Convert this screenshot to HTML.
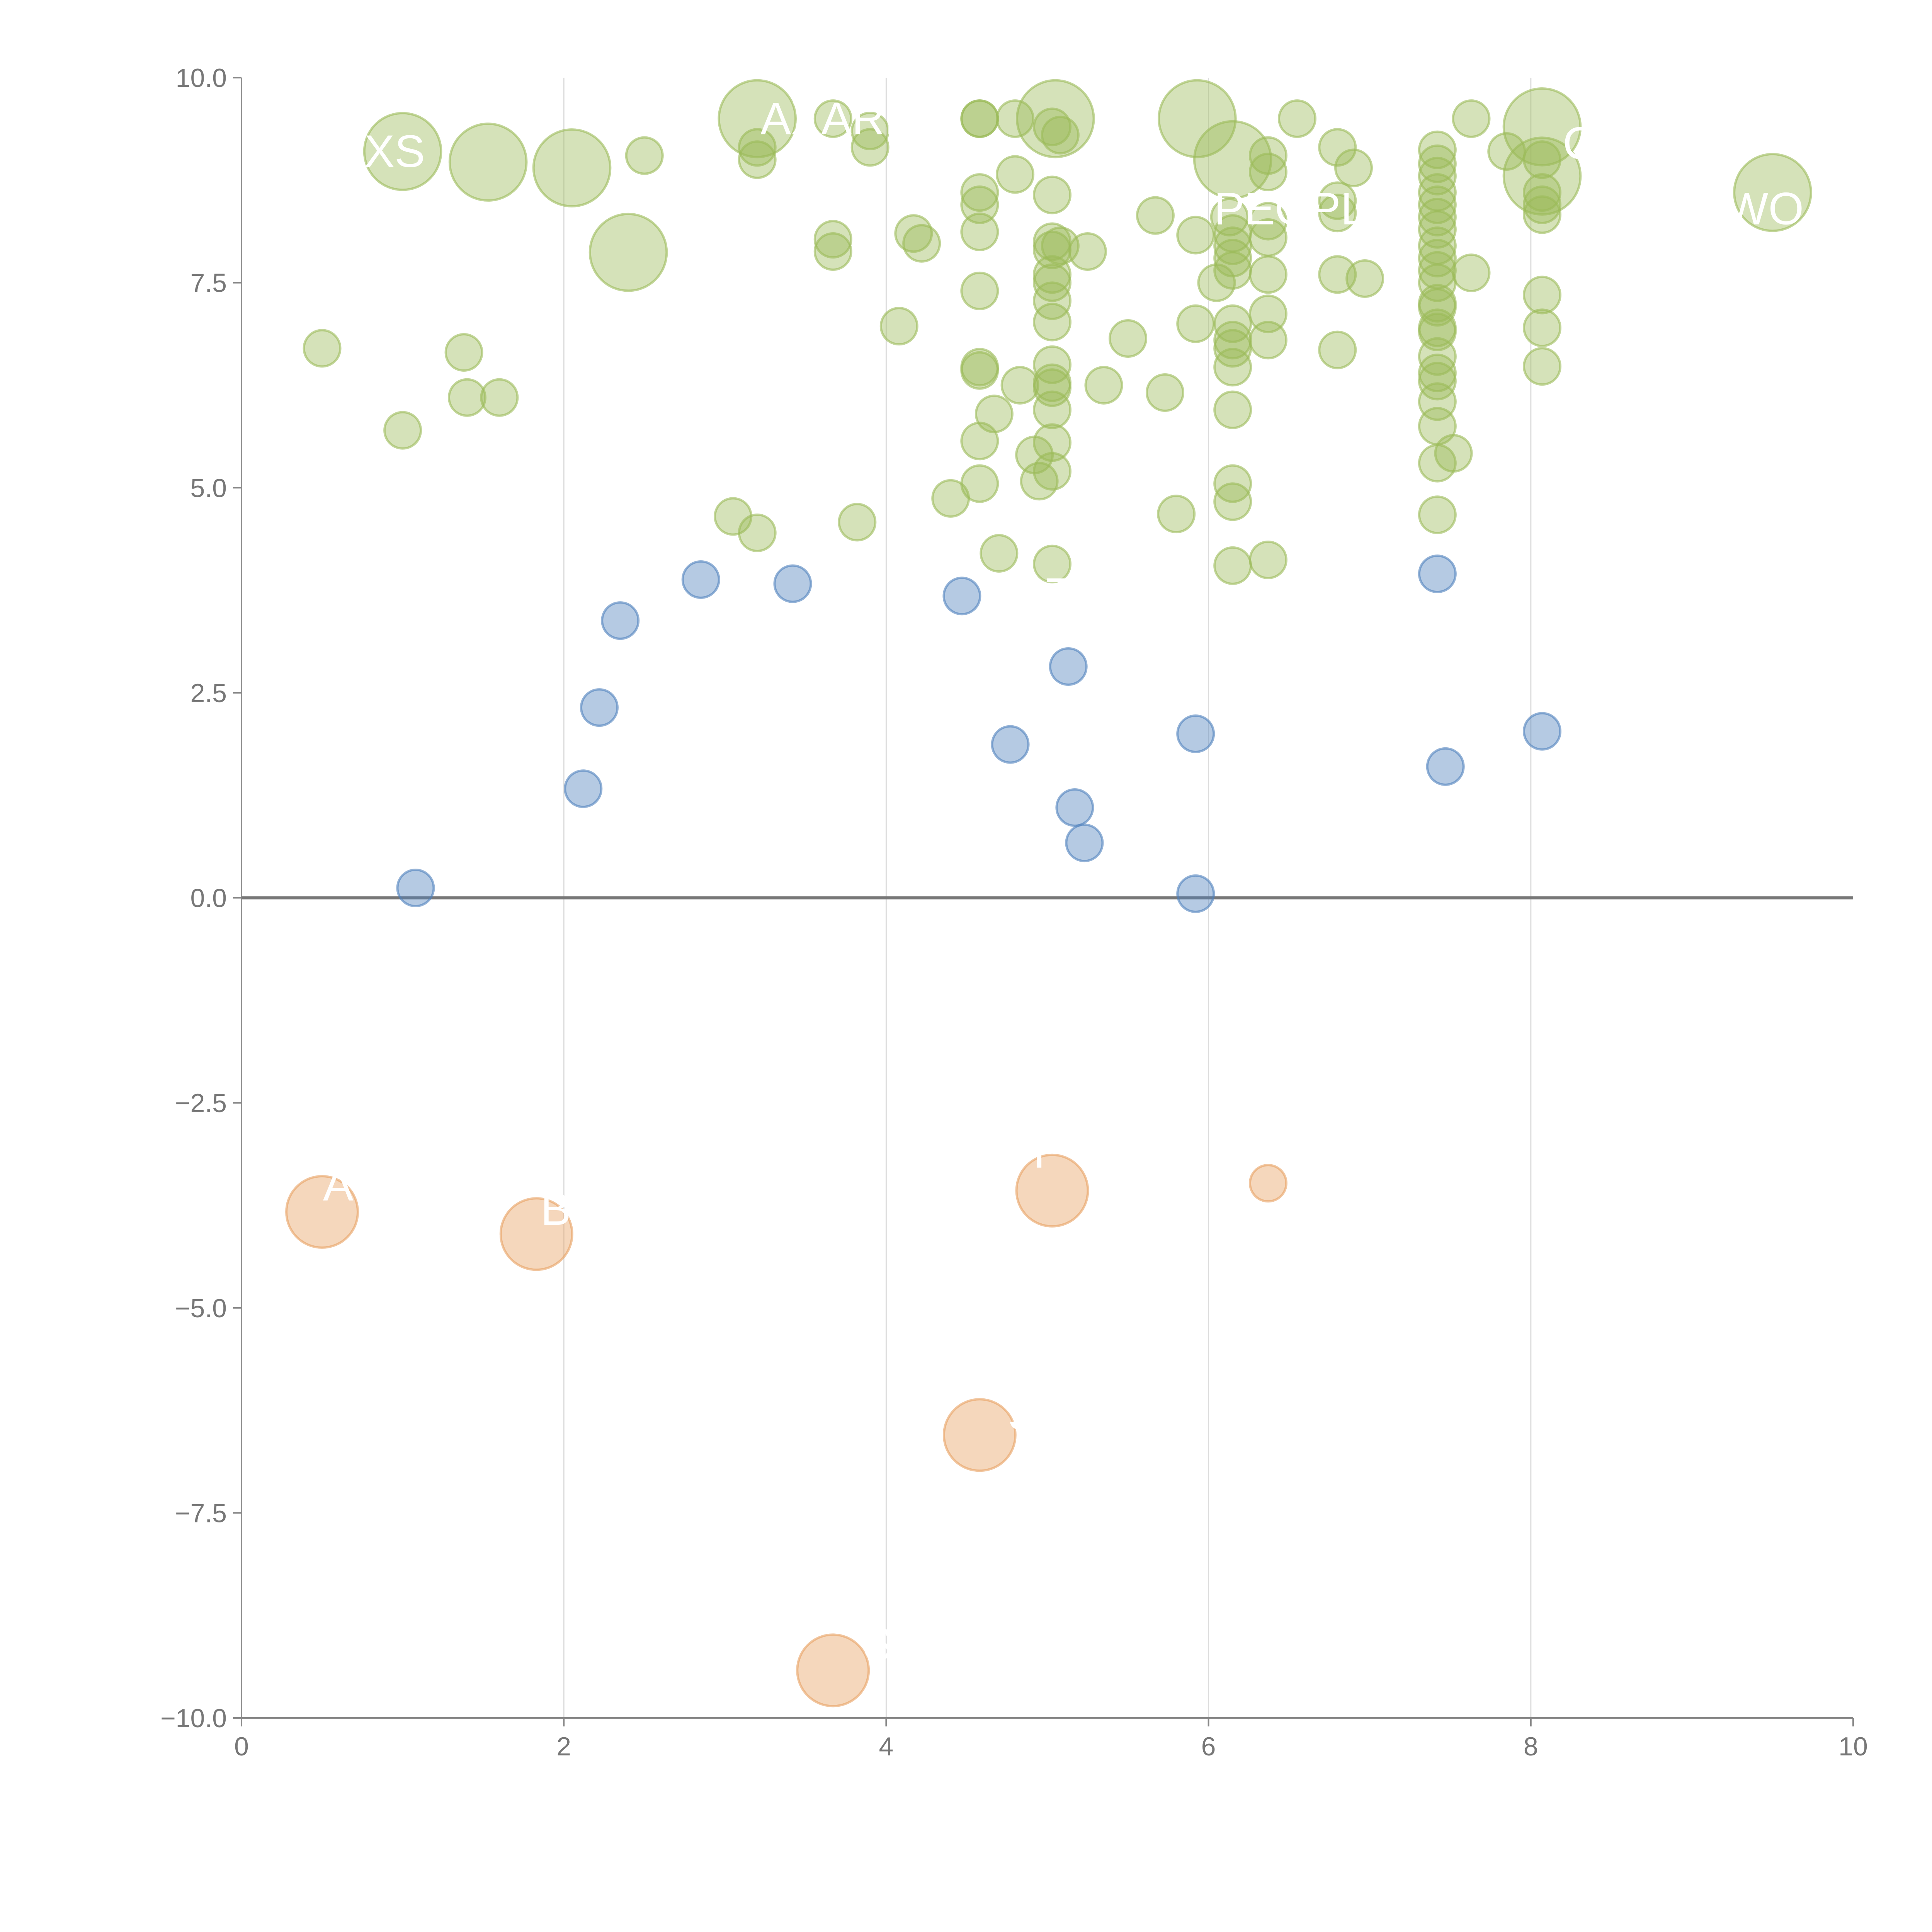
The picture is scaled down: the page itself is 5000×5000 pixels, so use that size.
<!DOCTYPE html>
<html><head><meta charset="utf-8"><style>
html,body{margin:0;padding:0;background:#fff;}
svg{display:block;font-family:"Liberation Sans",Arial,sans-serif;}
</style></head><body>
<svg id="chart" width="5000" height="5000" viewBox="0 0 5000 5000" xmlns="http://www.w3.org/2000/svg">
<g id="grid"></g>
<g id="axes"></g>
<g id="marks"></g>
<g id="labels"></g>
</svg>
<script>
const xTicks = [0, 2, 4, 6, 8, 10];
const yTicks = [-10, -7.5, -5, -2.5, 0, 2.5, 5, 7.5, 10];
const greenX = [1.0,1.53,2.05,2.4,3.2,5.05,5.93,6.15,8.07,8.07,9.5,
0.5,1.0,1.38,1.4,1.6,2.5,3.05,3.2,3.2,3.2,3.67,3.67,3.67,3.82,3.9,3.9,4.08,4.17,4.22,4.4,4.58,4.58,4.58,4.58,4.58,4.58,4.58,4.58,4.58,4.58,4.67,4.7,4.8,4.8,4.83,4.92,4.95,5.03,5.03,5.03,5.03,5.03,5.03,5.03,5.03,5.03,5.03,5.03,5.03,5.03,5.03,5.03,5.08,5.08,5.25,5.35,5.5,5.67,5.73,5.8,5.92,5.92,6.05,6.13,6.15,6.15,6.15,6.15,6.15,6.15,6.15,6.15,6.15,6.15,6.15,6.15,6.37,6.37,6.37,6.37,6.37,6.37,6.37,6.37,6.55,6.8,6.8,6.8,6.8,6.8,6.9,6.97,7.42,7.42,7.42,7.42,7.42,7.42,7.42,7.42,7.42,7.42,7.42,7.42,7.42,7.42,7.42,7.42,7.42,7.42,7.42,7.42,7.42,7.42,7.52,7.63,7.63,7.85,8.07,8.07,8.07,8.07,8.07,8.07,8.07];
const greenY = [9.1,8.97,8.9,7.87,9.5,9.5,9.5,9.0,9.4,8.8,8.6,
6.7,5.7,6.65,6.1,6.1,9.05,4.65,4.45,9.0,9.15,9.5,8.03,7.88,4.58,9.15,9.35,6.97,8.1,7.98,4.87,9.5,9.5,8.6,8.45,8.12,7.4,6.47,6.43,5.57,5.05,5.9,4.2,9.5,8.82,6.25,5.4,5.08,9.4,8.57,8.0,7.9,7.6,7.5,7.28,7.02,6.5,6.28,6.22,5.95,5.55,5.2,4.07,9.3,7.95,7.88,6.25,6.82,8.32,6.16,4.68,7.0,8.08,7.5,8.3,8.1,7.95,7.8,7.65,7.0,6.8,6.7,6.47,5.95,5.05,4.83,4.05,9.05,8.85,8.25,8.05,7.6,7.12,6.8,4.12,9.5,9.15,8.5,8.35,7.6,6.68,8.9,7.55,9.12,8.95,8.8,8.6,8.45,8.3,8.15,7.95,7.8,7.65,7.5,7.25,7.2,6.95,6.9,6.6,6.4,6.3,6.05,5.75,5.3,4.67,5.42,9.5,7.62,9.1,9.0,8.6,8.45,8.33,7.35,6.95,6.48];
const greenSize = [3,3,3,3,3,3,3,3,3,3,3];
const blueX = [1.08,2.12,2.22,2.35,2.85,3.42,4.47,4.77,5.13,5.17,5.23,5.92,5.92,7.42,7.47,8.07];
const blueY = [0.12,1.33,2.32,3.38,3.88,3.83,3.68,1.87,2.82,1.1,0.67,2.0,0.05,3.95,1.6,2.03];
const orangeX = [0.5,1.83,5.03,6.37,4.58,3.67];
const orangeY = [-3.83,-4.1,-3.57,-3.48,-6.55,-9.42];
const orangeSize = [2.6,2.6,2.6,1,2.6,2.6];
const labelText = ["XS","AXARE","PEOPLE","C","WO","A","B","T","S","S","BAT"];
const labelX = [0.95,3.7,6.6,8.3,9.45,0.6,1.95,4.95,4.85,3.95,4.9];
const labelY = [9.1,9.5,8.4,9.2,8.4,-3.5,-3.8,-3.1,-6.3,-9.1,3.7];

const L=625,R=4796,T=201,B=4446;
const sx=v=>L+(v-0)/10*(R-L);
const sy=v=>B-(v+10)/20*(B-T);
const NS="http://www.w3.org/2000/svg";
function mk(tag,parent,attrs){const e=document.createElementNS(NS,tag);for(const k in attrs)e.setAttribute(k,attrs[k]);parent.appendChild(e);return e;}
const grid=document.getElementById('grid'),axes=document.getElementById('axes'),marks=document.getElementById('marks'),labels=document.getElementById('labels');
xTicks.forEach(t=>{
  if(t>0&&t<10){const g=mk('line',grid,{x1:sx(t),x2:sx(t),y1:T,y2:B,stroke:'#dcdcdc','stroke-width':3});
  
  }
  const tk=mk('line',axes,{x1:sx(t),x2:sx(t),y1:B,y2:B+22,stroke:'#888','stroke-width':4});
  
  
  const tx=mk('text',axes,{x:sx(t),y:B+97,'text-anchor':'middle','font-size':68,fill:'#777'});
  tx.textContent=t;
  
  
});
yTicks.forEach(t=>{
  const tk=mk('line',axes,{x1:L-22,x2:L,y1:sy(t),y2:sy(t),stroke:'#888','stroke-width':4});
  
  
  const tx=mk('text',axes,{x:L-38,y:sy(t)+24,'text-anchor':'end','font-size':68,fill:'#777'});
  tx.textContent=(t<0?'\u2212':'')+Math.abs(t).toFixed(1);
  
  
});
const ya=mk('line',axes,{x1:L,x2:L,y1:T,y2:B,stroke:'#888','stroke-width':4});


const xa=mk('line',axes,{x1:L,x2:R,y1:B,y2:B,stroke:'#888','stroke-width':4});


const zl=mk('line',axes,{x1:L,x2:R,y1:sy(0),y2:sy(0),stroke:'#777','stroke-width':8});


const rBase=47;
function bubble(x,y,s,fill,name){
  const r=s>1?rBase*Math.sqrt(s)*1.22:rBase;
  const c=mk('circle',marks,{cx:sx(x),cy:sy(y),r:r,fill:fill,'fill-opacity':0.42,stroke:fill,'stroke-opacity':0.6,'stroke-width':6});
  
  
}
greenX.forEach((x,i)=>bubble(x,greenY[i],greenSize[i]||1,'#9bbb59','green-bubble'));
blueX.forEach((x,i)=>bubble(x,blueY[i],1,'#4f81bd','blue-bubble'));
orangeX.forEach((x,i)=>bubble(x,orangeY[i],orangeSize[i],'#e8a060','orange-bubble'));
labelText.forEach((s,i)=>{
  const t=mk('text',labels,{x:sx(labelX[i]),y:sy(labelY[i])+40,'text-anchor':'middle','font-size':118,fill:'#fff'});
  t.textContent=s;
  
  
});
</script>
</body></html>
